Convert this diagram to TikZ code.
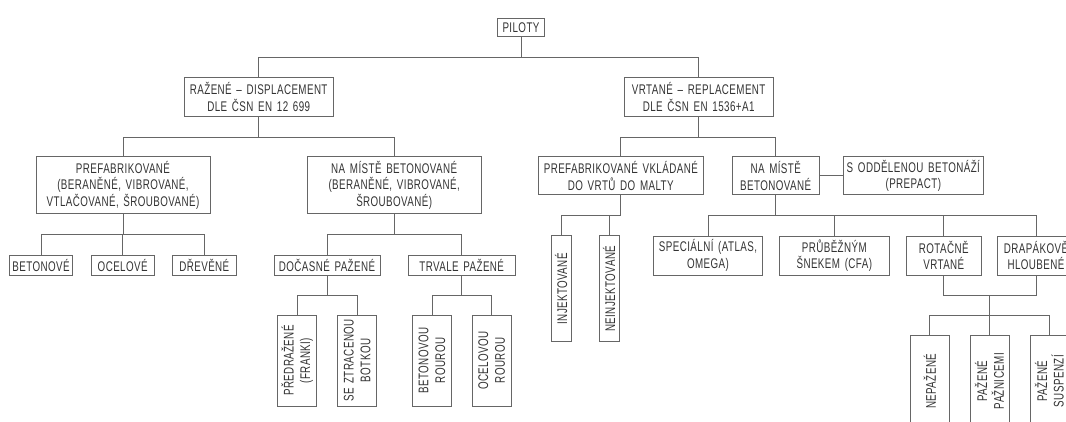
\documentclass[tikz,border=0pt]{standalone}
\usepackage{fontspec}
\setmainfont{Liberation Sans}[FakeStretch=0.7, LetterSpace=3, WordSpace=1.5]
\usetikzlibrary{calc}

\begin{document}
\begin{tikzpicture}[x=1pt, y=-1pt,
  box/.style={draw=black!60, line width=0.9pt, text=black!80, inner sep=0pt,
    align=center, font=\fontsize{14}{16.7}\selectfont},
  vbox/.style={box, rotate=90},
  link/.style={draw=black!60, line width=0.9pt}]
  \useasboundingbox (0,0) rectangle (1066,422);
  \clip (0,0) rectangle (1066,422);
  % 第一层
  \node[box, minimum width=46.6, minimum height=17.7] (piloty) at (521,27.2) {PILOTY};
  \node[box, minimum width=149.3, minimum height=38.7] (razene) at (258.7,96.7)
    {RAŽENÉ – DISPLACEMENT\\DLE ČSN EN 12 699};
  \node[box, minimum width=149.3, minimum height=38.7] (vrtane) at (698.7,96.7)
    {VRTANÉ – REPLACEMENT\\DLE ČSN EN 1536+A1};
  % 左侧
  \node[box, minimum width=174, minimum height=57.3] (prefab) at (123,185.3)
    {PREFABRIKOVANÉ\\(BERANĚNÉ, VIBROVANÉ,\\VTLAČOVANÉ, ŠROUBOVANÉ)};
  \node[box, minimum width=173.7, minimum height=57.3] (namiste) at (394.2,185.3)
    {NA MÍSTĚ BETONOVANÉ\\(BERANĚNÉ, VIBROVANÉ,\\ŠROUBOVANÉ)};
  \node[box, minimum width=63.4, minimum height=20] (beton) at (41,265) {BETONOVÉ};
  \node[box, minimum width=63.4, minimum height=20] (ocel) at (122.7,265) {OCELOVÉ};
  \node[box, minimum width=63.4, minimum height=20] (drev) at (204.3,265) {DŘEVĚNÉ};
  \node[box, minimum width=106, minimum height=20] (docasne) at (327,265) {DOČASNÉ PAŽENÉ};
  \node[box, minimum width=106.7, minimum height=20] (trvale) at (461.7,265) {TRVALE PAŽENÉ};
  \node[vbox, minimum width=91, minimum height=39] (predraz) at (297.2,360.5) {PŘEDRAŽENÉ\\(FRANKI)};
  \node[vbox, minimum width=91, minimum height=39] (seztrac) at (357.2,360.5) {SE ZTRACENOU\\BOTKOU};
  \node[vbox, minimum width=91, minimum height=39] (betonrou) at (432,360.5) {BETONOVOU\\ROUROU};
  \node[vbox, minimum width=91, minimum height=39] (ocelrou) at (491.7,360.5) {OCELOVOU\\ROUROU};
  % 右侧
  \node[box, minimum width=165, minimum height=38.3] (prefvkl) at (620.8,175.8)
    {PREFABRIKOVANÉ VKLÁDANÉ\\DO VRTŮ DO MALTY};
  \node[box, minimum width=87.3, minimum height=38.3] (namiste2) at (775.7,175.8)
    {NA MÍSTĚ\\BETONOVANÉ};
  \node[box, minimum width=140, minimum height=38.3] (oddel) at (913.3,175.8)
    {S ODDĚLENOU BETONÁŽÍ\\(PREPACT)};
  \node[vbox, minimum width=105.7, minimum height=20] (injekt) at (561,288.8) {INJEKTOVANÉ};
  \node[vbox, minimum width=105.7, minimum height=20] (neinjekt) at (609,288.8) {NEINJEKTOVANÉ};
  \node[box, minimum width=109.4, minimum height=39] (special) at (708,255.5) {SPECIÁLNÍ (ATLAS,\\OMEGA)};
  \node[box, minimum width=110, minimum height=39] (prubez) at (834.3,255.5) {PRŮBĚŽNÝM\\ŠNEKEM (CFA)};
  \node[box, minimum width=75.7, minimum height=39] (rotac) at (943.8,255.5) {ROTAČNĚ\\VRTANÉ};
  \node[box, minimum width=77.3, minimum height=39] (drap) at (1036,255.5) {DRAPÁKOVĚ\\HLOUBENÉ};
  \node[vbox, minimum width=91, minimum height=38.3] (nepaz) at (929.8,381.2) {NEPAŽENÉ};
  \node[vbox, minimum width=91, minimum height=39] (pazpaz) at (989.5,381.2) {PAŽENÉ\\PAŽNICEMI};
  \node[vbox, minimum width=91, minimum height=38.6] (pazsus) at (1049.3,381.2) {PAŽENÉ\\SUSPENZÍ};
  % 连线
  \foreach \p/\c in {piloty/razene, piloty/vrtane, razene/prefab, razene/namiste,
      prefab/beton, prefab/ocel, prefab/drev, namiste/docasne, namiste/trvale,
      vrtane/prefvkl, vrtane/namiste2, namiste2/special, namiste2/prubez,
      namiste2/rotac, namiste2/drap}
    \draw[link] (\p.south) -- ++(0,20.5) -| (\c.north);
  \foreach \p/\c in {docasne/predraz, docasne/seztrac, trvale/betonrou,
      trvale/ocelrou, prefvkl/injekt, prefvkl/neinjekt}
    \draw[link] (\p.south) -- ++(0,20) -| (\c.east);
  \draw[link] (namiste2.east) -- (oddel.west);
  % 合并分支
  \draw[link] (rotac.south) -- ++(0,20) -| (drap.south);
  \coordinate (spoj) at ($(rotac.south)!0.5!(drap.south)+(0,20)$);
  \foreach \c in {nepaz, pazpaz, pazsus}
    \draw[link] (spoj) -- ++(0,20) -| (\c.east);
\end{tikzpicture}
\end{document}
